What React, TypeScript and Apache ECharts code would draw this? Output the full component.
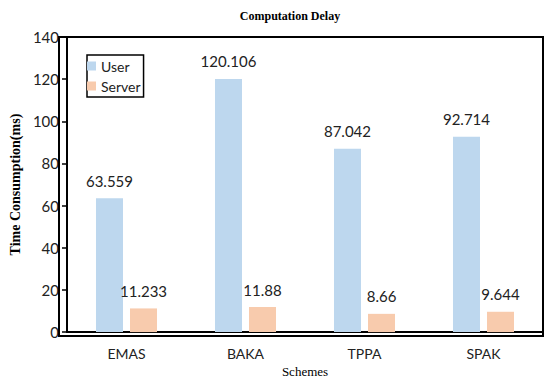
import React, { useEffect, useRef } from "react";
import * as echarts from "echarts";

const categories = ["EMAS", "BAKA", "TPPA", "SPAK"];
const userValues = [63.559, 120.106, 87.042, 92.714];
const serverValues = [11.233, 11.88, 8.66, 9.644];
const yTicks = { min: 0, max: 140, interval: 20 };

const sans = "Lato, 'Open Sans', sans-serif";
const serif = "'Liberation Serif', 'DejaVu Serif', serif";

export default function App() {
  const ref = useRef<HTMLDivElement>(null);
  useEffect(() => {
    document.body.style.margin = "0";
    if (!ref.current) return;
    const chart = echarts.init(ref.current, null, { renderer: "svg" });
    chart.setOption({
      animation: false,
      backgroundColor: "#ffffff",
      title: {
        text: "Computation Delay",
        left: 285,
        textAlign: "center",
        top: 5,
        textStyle: { fontFamily: serif, fontWeight: "bold", fontSize: 12, color: "#000" },
      },
      legend: {
        orient: "vertical",
        left: 87,
        top: 55,
        padding: [4, 3, 4, 0],
        itemGap: 6,
        itemWidth: 9,
        itemHeight: 9,
        borderColor: "#000",
        borderWidth: 1.5,
        icon: "rect",
        textStyle: { fontFamily: sans, fontSize: 14, color: "#222" },
        data: ["User", "Server"],
      },
      grid: { left: 59, right: 7, top: 37, bottom: 47, containLabel: false },
      xAxis: {
        type: "category",
        data: categories,
        name: "Schemes",
        nameLocation: "middle",
        nameGap: 31,
        nameTextStyle: { fontFamily: serif, fontSize: 13, color: "#000" },
        axisLine: { lineStyle: { color: "#000", width: 2 } },
        axisTick: { show: false },
        axisLabel: { fontFamily: sans, fontSize: 14, color: "#222", margin: 14 },
      },
      yAxis: {
        type: "value",
        min: yTicks.min,
        max: yTicks.max,
        interval: yTicks.interval,
        name: "Time Consumption(ms)",
        nameLocation: "middle",
        nameGap: 42,
        nameTextStyle: { fontFamily: serif, fontSize: 14, fontWeight: "bold", color: "#000" },
        axisLine: { show: true, lineStyle: { color: "#000", width: 2 } },
        axisTick: { show: true, length: 5, lineStyle: { color: "#000", width: 1.5 } },
        axisLabel: { fontFamily: sans, fontSize: 15, color: "#222", margin: 8 },
        splitLine: { show: false },
      },
      graphic: [
        {
          type: "rect",
          shape: { x: 59, y: 37, width: 484, height: 299 },
          style: { fill: "none", stroke: "#000", lineWidth: 2 },
          silent: true,
          z: 10,
        },
      ],
      series: [
        {
          name: "User",
          type: "bar",
          data: userValues,
          barWidth: 27,
          barGap: "26%",
          itemStyle: { color: "#BDD7EE" },
          label: {
            show: true,
            position: "top",
            distance: 10,
            fontFamily: sans,
            fontSize: 15,
            color: "#222",
          },
        },
        {
          name: "Server",
          type: "bar",
          data: serverValues,
          barWidth: 27,
          itemStyle: { color: "#F8CBAD" },
          label: {
            show: true,
            position: "top",
            distance: 10,
            fontFamily: sans,
            fontSize: 15,
            color: "#222",
          },
        },
      ],
    });
    return () => chart.dispose();
  }, []);
  return <div ref={ref} style={{ width: 550, height: 383 }} />;
}
